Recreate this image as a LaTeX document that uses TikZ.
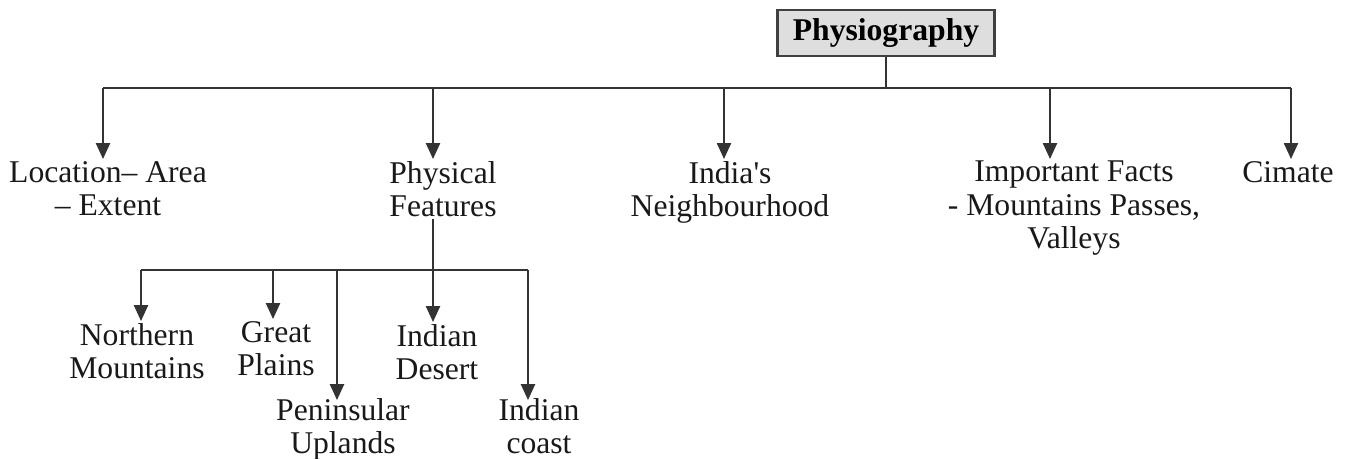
\documentclass[tikz,border=0pt]{standalone}
\usepackage{fontspec}
\setmainfont{Liberation Serif}
\usetikzlibrary{arrows.meta}

\tikzset{
  linea/.style={line width=1pt, draw=black!80},
  flecha/.style={linea, -{Triangle[width=8pt,length=9pt]}},
  etiqueta/.style={align=center, anchor=north, inner sep=1pt, text=black!90,
    font=\fontsize{18}{19}\selectfont},
  raiz/.style={draw=black!75, fill=black!13, line width=1.2pt,
    font=\fontsize{18}{19}\selectfont\bfseries,
    minimum width=4.34cm, minimum height=0.92cm}
}

\begin{document}
\begin{tikzpicture}

    % Fijamos el marco del dibujo
    \useasboundingbox (0,0) rectangle (27.04,9.18);

    % Nodo principal
    \node[raiz] (fisio) at (17.72,8.52) {Physiography};

    % Primer nivel de temas
    \node[etiqueta] (loc) at (2.16,6.00) {Location-- Area\\-- Extent};
    \node[etiqueta] (fis) at (8.86,6.00) {Physical\\Features};
    \node[etiqueta] (vec) at (14.60,6.00) {India\textquotesingle s\\Neighbourhood};
    \node[etiqueta] (dat) at (21.48,6.00) {Important Facts\\- Mountains Passes,\\Valleys};
    \node[etiqueta] (cli) at (25.76,6.00) {Cimate};

    % Barra superior y flechas
    \coordinate (b1) at (2.06,7.42);
    \coordinate (b2) at (8.66,7.42);
    \coordinate (b3) at (14.48,7.42);
    \coordinate (b4) at (21.00,7.42);
    \coordinate (b5) at (25.82,7.42);
    \draw[linea] (fisio.south) -- (fisio.south |- b1);
    \draw[linea] (b1) -- (b5);
    \foreach \b/\n in {b1/loc, b2/fis, b3/vec, b4/dat, b5/cli}
        \draw[flecha] (\b) -- (\b |- \n.north);

    % Segundo nivel: rasgos fisicos
    \node[etiqueta] (nor) at (2.74,2.76) {Northern\\Mountains};
    \node[etiqueta] (lla) at (5.52,2.80) {Great\\Plains};
    \node[etiqueta] (pen) at (6.86,1.26) {Peninsular\\Uplands};
    \node[etiqueta] (des) at (8.74,2.74) {Indian\\Desert};
    \node[etiqueta] (cos) at (10.78,1.26) {Indian\\coast};

    % Barra inferior y flechas
    \coordinate (c1) at (2.82,3.78);
    \coordinate (c2) at (5.46,3.78);
    \coordinate (c3) at (6.74,3.78);
    \coordinate (c4) at (8.66,3.78);
    \coordinate (c5) at (10.56,3.78);
    \draw[linea] (c4 |- fis.south) -- (c4);
    \draw[linea] (c1) -- (c5);
    \foreach \c/\n in {c1/nor, c2/lla, c4/des}
        \draw[flecha] (\c) -- (\c |- \n.north);
    \foreach \c/\n in {c3/pen, c5/cos}
        \draw[flecha, shorten >=-2.3pt] (\c) -- (\c |- \n.north);

\end{tikzpicture}
\end{document}
